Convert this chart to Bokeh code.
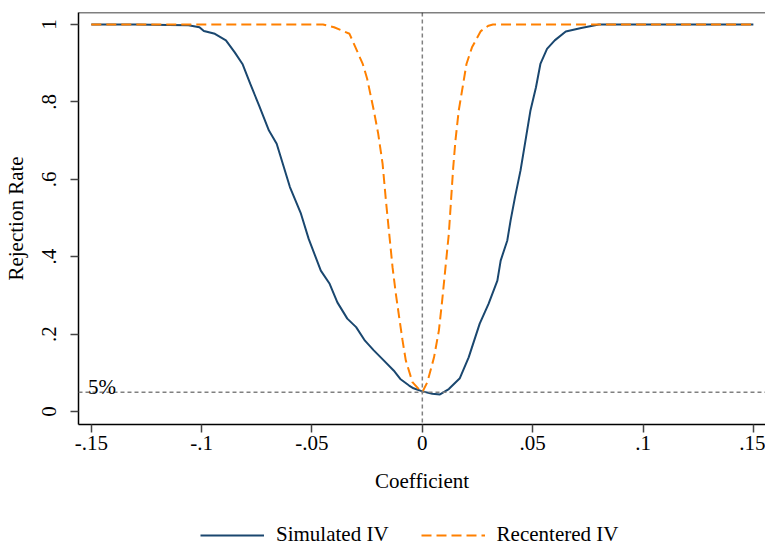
from bokeh.plotting import figure
from bokeh.layouts import column
from bokeh.models import Range1d, FixedTicker, Span, Label, Legend, LegendItem, ColumnDataSource
from bokeh.embed import file_html
from bokeh.resources import INLINE

# ---- data ----
sim_x = [-0.150, -0.130, -0.115, -0.106, -0.101, -0.099, -0.094, -0.089, -0.085, -0.0815,
         -0.078, -0.074, -0.0695, -0.066, -0.060, -0.055, -0.0515, -0.046, -0.042, -0.0385,
         -0.034, -0.030, -0.026, -0.022, -0.0175, -0.013, -0.010, -0.006, -0.004, 0.000,
         0.0045, 0.008, 0.012, 0.017, 0.021, 0.026, 0.030, 0.034, 0.0355, 0.0385,
         0.040, 0.042, 0.0445, 0.047, 0.049, 0.0515, 0.0535, 0.0565, 0.060, 0.065,
         0.072, 0.080, 0.150]
sim_y = [1.000, 1.000, 0.999, 0.998, 0.993, 0.983, 0.976, 0.959, 0.928, 0.898,
         0.847, 0.791, 0.726, 0.692, 0.580, 0.511, 0.446, 0.364, 0.330, 0.282,
         0.240, 0.218, 0.183, 0.158, 0.132, 0.106, 0.084, 0.067, 0.060, 0.052,
         0.046, 0.044, 0.058, 0.086, 0.140, 0.227, 0.278, 0.338, 0.390, 0.442,
         0.494, 0.554, 0.623, 0.709, 0.778, 0.838, 0.898, 0.937, 0.959, 0.982,
         0.991, 1.000, 1.000]

rec_x = [-0.150, -0.045, -0.040, -0.033, -0.031, -0.027, -0.025, -0.022, -0.020, -0.018,
         -0.0165, -0.015, -0.0135, -0.012, -0.0105, -0.009, -0.0075, -0.0045, -0.001, 0.000,
         0.0023, 0.0053, 0.0075, 0.009, 0.0105, 0.012, 0.013, 0.014, 0.015, 0.0165,
         0.018, 0.020, 0.0225, 0.0265, 0.030, 0.032, 0.150]
rec_y = [1.000, 1.000, 0.993, 0.976, 0.950, 0.898, 0.860, 0.778, 0.718, 0.640,
         0.545, 0.459, 0.373, 0.304, 0.244, 0.185, 0.132, 0.076, 0.054, 0.050,
         0.076, 0.140, 0.209, 0.287, 0.373, 0.459, 0.545, 0.631, 0.700, 0.778,
         0.829, 0.898, 0.941, 0.983, 0.997, 1.000, 1.000]

x_ticks = [-0.15, -0.1, -0.05, 0.0, 0.05, 0.1, 0.15]
x_tick_labels = ["-.15", "-.1", "-.05", "0", ".05", ".1", ".15"]
y_ticks = [0.0, 0.2, 0.4, 0.6, 0.8, 1.0]
y_tick_labels = ["0", ".2", ".4", ".6", ".8", "1"]
series_names = ["Simulated IV", "Recentered IV"]
ref_x = 0.0
ref_y = 0.05

FONT = "Liberation Serif"
FS = "21px"
BLUE = "#1a476f"
ORANGE = "#ff8000"
REC_DASH = "10 5"

p = figure(frame_width=687, frame_height=412,
           x_range=Range1d(-0.1558, 0.1555), y_range=Range1d(-0.0336, 1.031),
           output_backend="svg", toolbar_location=None,
           min_border_left=78, min_border_right=0, min_border_top=12,
           min_border_bottom=70)
p.background_fill_color = "white"
p.border_fill_color = "white"
p.outline_line_color = None
p.xgrid.visible = False
p.ygrid.visible = False

sim_src = ColumnDataSource(dict(x=sim_x, y=sim_y))
rec_src = ColumnDataSource(dict(x=rec_x, y=rec_y))

p.add_layout(Span(location=ref_x, dimension="height", line_color="#808080",
                  line_dash="4 3", line_width=1.5))
p.add_layout(Span(location=ref_y, dimension="width", line_color="#808080",
                  line_dash="4 3", line_width=1.5))
p.add_layout(Span(location=1.031, dimension="width", line_color="black", line_width=1.5))

p.line("x", "y", source=sim_src, line_color=BLUE, line_width=2)
p.line("x", "y", source=rec_src, line_color=ORANGE, line_width=2, line_dash=REC_DASH)

p.add_layout(Label(x=-0.1515, y=ref_y, y_offset=5, text="5%", text_font=FONT,
                   text_font_size=FS, text_color="black", text_baseline="alphabetic"))

# axes
p.xaxis.ticker = FixedTicker(ticks=x_ticks)
p.xaxis.major_label_overrides = dict(zip(x_ticks, x_tick_labels))
p.yaxis.ticker = FixedTicker(ticks=y_ticks)
p.yaxis.major_label_overrides = dict(zip(y_ticks, y_tick_labels))
for ax in (p.xaxis, p.yaxis):
    ax.minor_tick_line_color = None
    ax.major_tick_in = 0
    ax.major_tick_out = 8
    ax.axis_line_color = "black"
    ax.axis_line_width = 1.5
    ax.major_tick_line_color = "#444444"
    ax.major_tick_line_width = 1.5
    ax.major_label_text_font = FONT
    ax.major_label_text_font_size = FS
    ax.major_label_text_color = "black"
    ax.axis_label_text_font = FONT
    ax.axis_label_text_font_size = FS
    ax.axis_label_text_font_style = "normal"
    ax.axis_label_text_color = "black"
p.xaxis.axis_label = "Coefficient"
p.yaxis.axis_label = "Rejection Rate"
p.yaxis.major_label_orientation = "vertical"
p.xaxis.major_label_standoff = 3
p.yaxis.major_label_standoff = 14
p.xaxis.axis_label_standoff = 16
p.yaxis.axis_label_standoff = 12

# legend strip below the chart (series drawn out of its visible range; only the legend shows)
lg = figure(frame_width=687, height=52, x_range=Range1d(0, 1), y_range=Range1d(5, 6),
            output_backend="svg", toolbar_location=None,
            x_axis_location=None, y_axis_location=None,
            min_border_left=78, min_border_right=0, min_border_top=0, min_border_bottom=0)
lg.outline_line_color = None
lg.xgrid.visible = False
lg.ygrid.visible = False
lg.background_fill_color = "white"
lg.border_fill_color = "white"
g_sim = lg.line("x", "y", source=sim_src, line_color=BLUE, line_width=2)
g_rec = lg.line("x", "y", source=rec_src, line_color=ORANGE, line_width=2, line_dash=REC_DASH)
legend = Legend(items=[LegendItem(label=series_names[0], renderers=[g_sim]),
                       LegendItem(label=series_names[1], renderers=[g_rec])],
                orientation="horizontal", location=(122, 0),
                label_text_font=FONT, label_text_font_size=FS, label_text_color="black",
                glyph_width=64, glyph_height=20, label_standoff=12, spacing=32,
                padding=0, margin=0, border_line_color=None,
                background_fill_alpha=0)
lg.add_layout(legend)

open("out.html", "w").write(file_html(column(p, lg, spacing=0), INLINE))
